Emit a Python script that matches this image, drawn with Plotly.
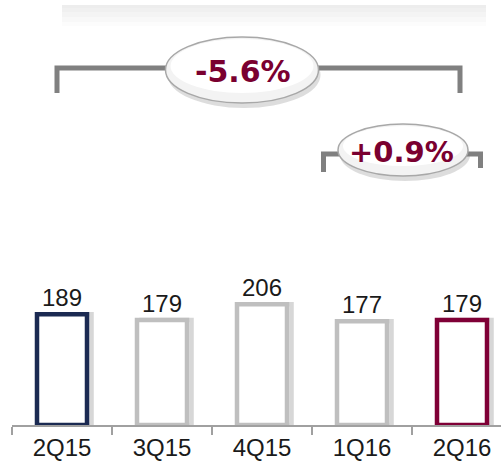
import plotly.graph_objects as go

quarters = ["2Q15", "3Q15", "4Q15", "1Q16", "2Q16"]
values = [189, 179, 206, 177, 179]
edge_colors = ["#1b2a52", "#bfbfbf", "#bfbfbf", "#bfbfbf", "#7f0036"]
change_labels = ["-5.6%", "+0.9%"]

W, H = 501, 465
ML, MR, MT, MB = 12, 0, 0, 40
PW, PH = W - ML - MR, H - MT - MB


def px(x):
    return (x - ML) / PW


def py(y):
    return (H - MB - y) / PH


fig = go.Figure()

# soft shadow behind bars
fig.add_trace(go.Bar(
    x=quarters, y=values, width=0.5, offset=-0.25 + 0.045,
    marker=dict(color="rgba(0,0,0,0)", line=dict(color="rgba(140,140,140,0.35)", width=4.5)),
    hoverinfo="skip", showlegend=False,
))
fig.add_trace(go.Bar(
    x=quarters, y=values, width=0.5,
    marker=dict(color="white", line=dict(color=edge_colors, width=4.5)),
    text=[str(v) for v in values], textposition="outside", cliponaxis=False,
    textfont=dict(family="Liberation Sans, Arial", size=24, color="#1a1a1a"),
    showlegend=False,
))

shapes = []
# top faint gradient band
band = [(5, 8, "#ededed"), (8, 12, "#f0f0f0"), (12, 17, "#f4f4f4"), (17, 22, "#f8f8f8"), (22, 26, "#fcfcfc")]
for y0, y1, c in band:
    shapes.append(dict(type="rect", xref="paper", yref="paper", x0=px(62), x1=px(486),
                       y0=py(y1), y1=py(y0), fillcolor=c, line=dict(width=0), layer="below"))


def bracket(xl, xr, ytop, ybl, ybr):
    return dict(type="path", xref="paper", yref="paper",
                path=f"M {px(xl)},{py(ybl)} L {px(xl)},{py(ytop)} L {px(xr)},{py(ytop)} L {px(xr)},{py(ybr)}",
                line=dict(color="#808080", width=5))


shapes.append(bracket(57, 460, 68, 93, 93))
shapes.append(bracket(323.5, 480.5, 154, 172, 168))


def ellipse(cx, cy, w, h):
    out = []
    out.append(dict(type="circle", xref="paper", yref="paper",
                    x0=px(cx - w / 2 + 2), x1=px(cx + w / 2 + 2), y0=py(cy + h / 2 + 5), y1=py(cy - h / 2 + 5),
                    fillcolor="rgba(120,120,120,0.25)", line=dict(width=0)))
    out.append(dict(type="circle", xref="paper", yref="paper",
                    x0=px(cx - w / 2), x1=px(cx + w / 2), y0=py(cy + h / 2), y1=py(cy - h / 2),
                    fillcolor="#f3f3f3", line=dict(color="#a8a8a8", width=1.5)))
    out.append(dict(type="circle", xref="paper", yref="paper",
                    x0=px(cx - w / 2 + 5), x1=px(cx + w / 2 - 5), y0=py(cy + h / 2 - 10), y1=py(cy - h / 2 + 2),
                    fillcolor="white", line=dict(width=0)))
    return out


shapes += ellipse(242, 70, 153, 66)
shapes += ellipse(403, 150, 130, 52)

annotations = [
    dict(xref="paper", yref="paper", x=px(242.5), y=py(71), text=f"<b>{change_labels[0]}</b>",
         showarrow=False, xanchor="center", yanchor="middle",
         font=dict(family="DejaVu Sans", size=30, color="#7a0030")),
    dict(xref="paper", yref="paper", x=px(401), y=py(152), text=f"<b>{change_labels[1]}</b>",
         showarrow=False, xanchor="center", yanchor="middle",
         font=dict(family="DejaVu Sans", size=29, color="#7a0030")),
]

fig.update_layout(
    width=W, height=H, margin=dict(l=ML, r=MR, t=MT, b=MB),
    paper_bgcolor="white", plot_bgcolor="white",
    barmode="overlay", shapes=shapes, annotations=annotations,
    xaxis=dict(type="category", range=[-0.5, 4.39], showgrid=False, zeroline=False,
               showline=True, linecolor="#a0a0a0", linewidth=1.5,
               ticks="outside", tickson="boundaries", ticklen=8, tickcolor="#a0a0a0", tickwidth=1.5,
               tickfont=dict(family="Liberation Sans, Arial", size=24, color="#1a1a1a")),
    yaxis=dict(range=[0, 725], visible=False, showgrid=False, zeroline=False),
)

fig.write_html("out.html", config={"displayModeBar": False},
               post_script="document.body.style.margin='0';document.body.style.overflow='hidden';")
